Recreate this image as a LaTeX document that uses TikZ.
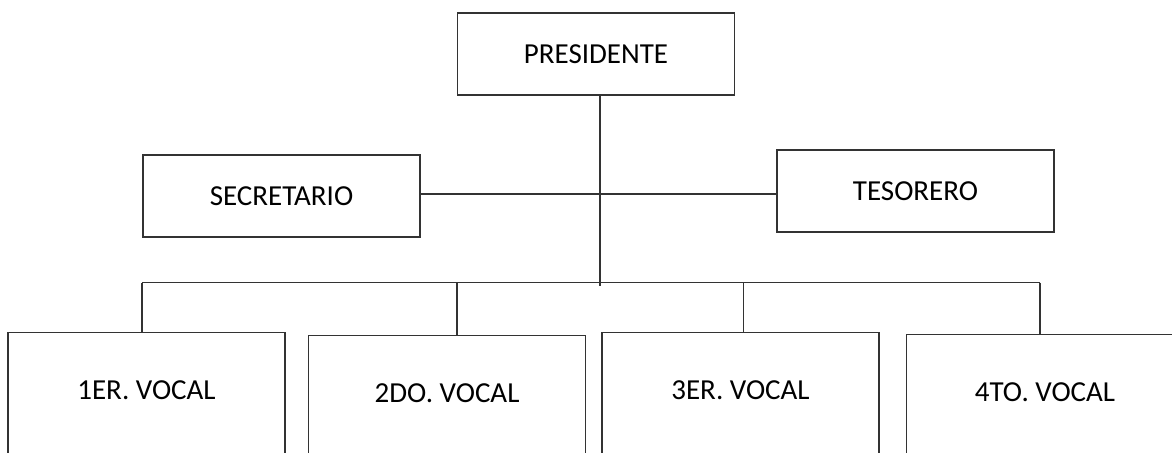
\documentclass[tikz,border=0pt]{standalone}
\usepackage{fontspec}
\setmainfont{Carlito}

\begin{document}
\begin{tikzpicture}[x=0.5pt,y=-0.5pt,line width=0.6pt,draw=black!80,
    font=\fontsize{14.5}{17}\selectfont,
    cargo/.style={rectangle,draw,minimum width=138.5pt,minimum height=41pt,inner sep=0pt},
    vocal/.style={rectangle,draw,anchor=north,minimum width=138.5pt,inner ysep=0pt,text height=33.5pt,text depth=50pt}]

    \clip (0,0) rectangle (1172,452);

    % top of the chart
    \node[cargo] (pres) at (596,54) {PRESIDENTE};
    \node[cargo] (sec) at (281.5,196) {SECRETARIO};
    \node[cargo] (tes) at (915.5,191) {TESORERO};

    % the four vocals
    \node[vocal] (v1) at (146.5,332) {1ER. VOCAL};
    \node[vocal] (v2) at (447,335) {2DO. VOCAL};
    \node[vocal] (v3) at (740.5,332) {3ER. VOCAL};
    \node[vocal] (v4) at (1045,334) {4TO. VOCAL};

    \coordinate (mid) at (600,194);
    \coordinate (bus) at (600,282.5);
    \coordinate (tail) at (600,286);

    \draw (pres.south -| mid) -- (tail);
    \draw (sec.east |- mid) -- (tes.west |- mid);

    \foreach \v/\dx in {v1/-2.25,v2/5,v3/1.5,v4/-2.5}
        \path ([xshift=\dx pt]\v.north) coordinate (\v top);
    \draw (v1top |- bus) -- (v4top |- bus);
    \foreach \v in {v1,v2,v3,v4}
        \draw (\v top |- bus) -- (\v top);
\end{tikzpicture}
\end{document}
